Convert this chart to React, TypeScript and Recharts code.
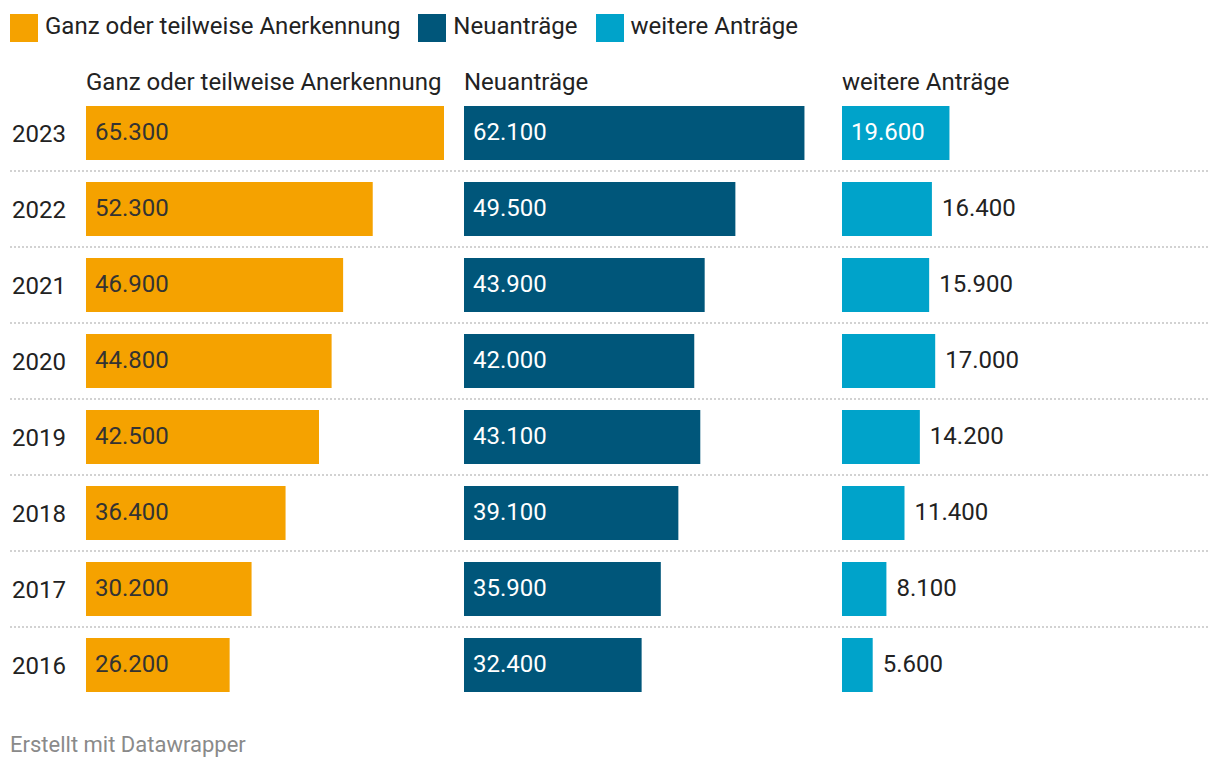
import React from 'react';
import { BarChart, Bar, XAxis, YAxis, CartesianGrid, Legend, LabelList } from 'recharts';

// ---------- data ----------
const years = ['2023', '2022', '2021', '2020', '2019', '2018', '2017', '2016'];
const anerkennung = [65300, 52300, 46900, 44800, 42500, 36400, 30200, 26200];
const neuantraege = [62100, 49500, 43900, 42000, 43100, 39100, 35900, 32400];
const weitere = [19600, 16400, 15900, 17000, 14200, 11400, 8100, 5600];
const seriesNames = ['Ganz oder teilweise Anerkennung', 'Neuanträge', 'weitere Anträge'];
const seriesKeys = ['a', 'n', 'w'];
const colors = ['#f5a200', '#00567a', '#00a3ca'];
const footerText = 'Erstellt mit Datawrapper';

const data = years.map((year, i) => ({ year, a: anerkennung[i], n: neuantraege[i], w: weitere[i] }));
// separators are drawn at the upper edge of every row except the first
const separatorRows = years.slice(1);

// ---------- layout ----------
const FONT = 'Roboto, "Noto Sans", sans-serif';
const FS = 24;
const CHART_W = 1220;
const CHART_H = 720;
const MARGIN = { top: 92, right: 12, bottom: 17, left: 9 };
const TOP_AXES_H = 3; // three 1px header axes
const PLOT_W = CHART_W - MARGIN.left - 1 - MARGIN.right;
const PLOT_H = CHART_H - MARGIN.top - TOP_AXES_H - MARGIN.bottom;
const ROW_PITCH = PLOT_H / years.length;
const LABEL_COL = 76;
const COL_W = 358;
const COL_GAP = 20;
const maxVal = Math.max(...anerkennung, ...neuantraege, ...weitere);
const unit = COL_W / maxVal;
const domainFor = (k: number): [number, number] => {
  const start = LABEL_COL + k * (COL_W + COL_GAP);
  return [-start / unit, (PLOT_W - start) / unit];
};

const fmt = (v: number) => String(v).replace(/\B(?=(\d{3})+(?!\d))/g, '.');

const makeLabel = (k: number) => (props: any) => {
  const vb = props.viewBox && props.viewBox.width !== undefined ? props.viewBox : props;
  const { x, y, width, height } = vb;
  const value = props.value;
  if (x === undefined || value === undefined) return null;
  const txt = fmt(Number(value));
  const est = txt.length * 12.3;
  const inside = k < 2 || width >= est + 20;
  const fill = inside ? (k === 0 ? '#333333' : '#ffffff') : '#222222';
  const tx = inside ? x + 9 : x + width + 10;
  return (
    <text x={tx} y={y + height / 2} dy="0.3em" fill={fill} fontSize={FS} fontFamily={FONT}>
      {txt}
    </text>
  );
};

const HeaderTick = (label: string, k: number) => (props: any) => {
  const { x, y } = props;
  return (
    <text x={x} y={y - 5 + k} fill="#222222" fontSize={FS} fontFamily={FONT} textAnchor="start">
      {label}
    </text>
  );
};

const YearTick = (props: any) => {
  const { x, y, payload } = props;
  return (
    <text x={x + 2} y={y} dy="0.39em" fill="#222222" fontSize={FS} fontFamily={FONT} textAnchor="start">
      {payload.value}
    </text>
  );
};

const LegendContent = (props: any) => {
  const payload = props.payload && props.payload.length ? props.payload : seriesNames.map((n, i) => ({ value: n, color: colors[i] }));
  return (
    <div style={{ display: 'flex', flexDirection: 'row', alignItems: 'flex-start', fontFamily: FONT, fontSize: FS }}>
      {payload.map((p: any, i: number) => (
        <div key={i} style={{ display: 'flex', alignItems: 'flex-start', marginRight: 18 }}>
          <div style={{ width: 28, height: 28, background: p.color, marginRight: 7 }} />
          <span style={{ color: '#222222', lineHeight: '28px', marginTop: -2 }}>{p.value}</span>
        </div>
      ))}
    </div>
  );
};

export default function App() {
  return (
    <div style={{ position: 'absolute', left: 0, top: 0, width: 1220, height: 770, background: '#ffffff' }}>
      <BarChart
        width={CHART_W}
        height={CHART_H}
        data={data}
        layout="vertical"
        margin={MARGIN}
        barGap={-54}
        barCategoryGap={0}
      >
        <CartesianGrid
          xAxisId="a"
          yAxisId="sep"
          horizontal={true}
          vertical={false}
          horizontalValues={separatorRows}
          stroke="#d2d2d2"
          strokeWidth={2}
          strokeDasharray="2 2"
        />
        {seriesKeys.map((key, k) => (
          <XAxis
            key={key}
            xAxisId={key}
            type="number"
            orientation="top"
            domain={domainFor(k)}
            allowDataOverflow={true}
            ticks={[0]}
            interval={0}
            height={1}
            axisLine={false}
            tickLine={false}
            tickSize={0}
            tickMargin={0}
            tick={HeaderTick(seriesNames[k], k)}
          />
        ))}
        <YAxis
          type="category"
          dataKey="year"
          width={1}
          axisLine={false}
          tickLine={false}
          tickSize={0}
          tickMargin={0}
          interval={0}
          tick={YearTick}
        />
        <YAxis
          yAxisId="sep"
          type="category"
          dataKey="year"
          scale="point"
          padding={{ top: 0, bottom: ROW_PITCH }}
          hide={true}
        />
        <Legend
          layout="horizontal"
          verticalAlign="middle"
          align="center"
          wrapperStyle={{ top: 14, left: 10, width: 1200, height: 'auto' }}
          content={LegendContent}
        />
        {seriesKeys.map((key, k) => (
          <Bar
            key={key}
            dataKey={key}
            name={seriesNames[k]}
            xAxisId={key}
            fill={colors[k]}
            barSize={54}
            isAnimationActive={false}
          >
            <LabelList dataKey={key} content={makeLabel(k)} />
          </Bar>
        ))}
      </BarChart>
      <div
        style={{
          position: 'absolute',
          left: 10,
          top: 732,
          fontFamily: FONT,
          fontSize: 22,
          color: '#8a8a8a',
          lineHeight: '26px',
        }}
      >
        {footerText}
      </div>
    </div>
  );
}
